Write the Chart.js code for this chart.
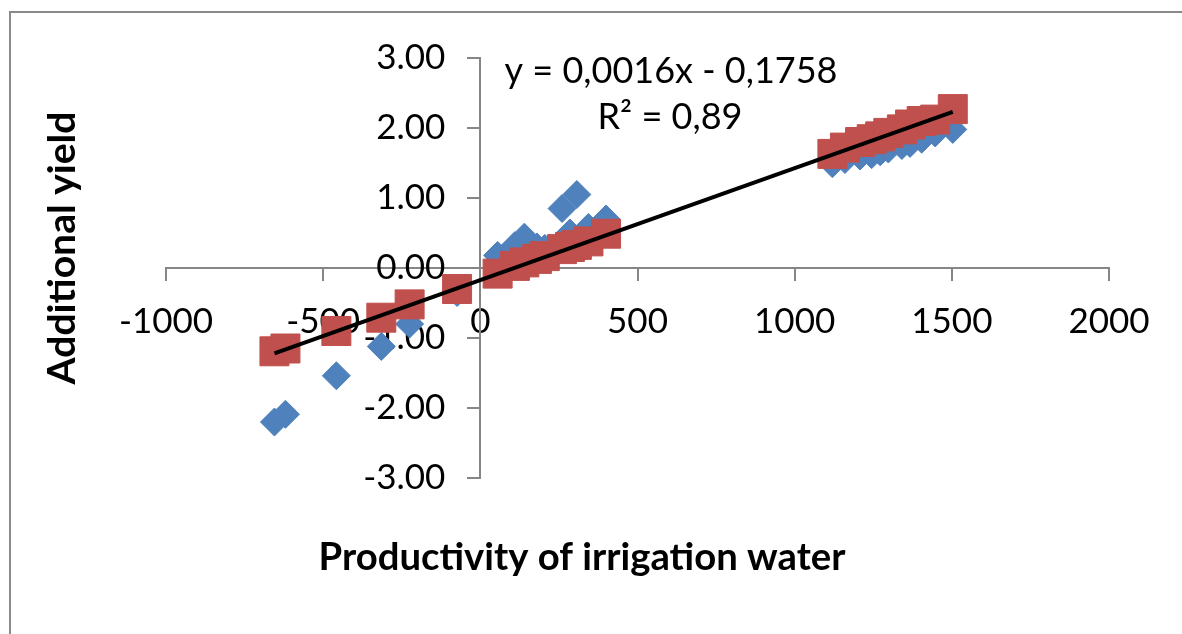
<!DOCTYPE html>
<html>
<head>
<meta charset="utf-8">
<script src="https://cdn.jsdelivr.net/npm/chart.js@4.4.1/dist/chart.umd.min.js"></script>
<style>
  html, body { margin: 0; padding: 0; background: #ffffff; }
  canvas { display: block; }
</style>
</head>
<body>
<canvas id="c" width="1182" height="634"></canvas>
<script>
// ---- data ----
const xValues = [-655, -620, -458, -315, -225, -74,
  55, 110, 140, 180, 205, 260, 285, 307, 344, 400,
  1120, 1160, 1208, 1245, 1272, 1298, 1341, 1367, 1404, 1447, 1503];
const actualYield = [-2.20, -2.09, -1.54, -1.12, -0.80, -0.35,
  0.18, 0.32, 0.44, 0.30, 0.28, 0.85, 0.50, 1.05, 0.58, 0.70,
  1.49, 1.55, 1.60, 1.62, 1.66, 1.70, 1.75, 1.78, 1.84, 1.93, 1.98];
const estimatedYield = [-1.19, -1.15, -0.90, -0.71, -0.52, -0.30,
  -0.08, 0.03, 0.08, 0.13, 0.17, 0.27, 0.30, 0.33, 0.38, 0.49,
  1.63, 1.72, 1.80, 1.84, 1.88, 1.93, 1.98, 2.05, 2.10, 2.12, 2.27];
const trendX = [-655, 1503];
const trendY = [-1.22, 2.23];
const xTickLabels = ['-1000', '-500', '0', '500', '1000', '1500', '2000'];
const yTickLabels = ['-3.00', '-2.00', '-1.00', '0.00', '1.00', '2.00', '3.00'];
const xTitle = 'Productivity of irrigation water';
const yTitle = 'Additional yield';
const eqLine1 = 'y = 0,0016x - 0,1758';
const eqLine2 = 'R\u00B2 = 0,89';

const toPoints = (xs, ys) => xs.map((x, i) => ({ x: x, y: ys[i] }));

const AXIS_GREY = '#868686';
const FONT = 'Lato';
const Y_LABEL_GAP = 35;

function fitText(ctx, text, weight, target, cx, cy, rot) {
  ctx.save();
  ctx.font = weight + ' 100px ' + FONT;
  const w = ctx.measureText(text).width;
  const size = 100 * target / w;
  ctx.font = weight + ' ' + size.toFixed(2) + 'px ' + FONT;
  ctx.fillStyle = '#000000';
  ctx.textAlign = 'center';
  ctx.textBaseline = 'middle';
  ctx.translate(cx, cy);
  if (rot) ctx.rotate(rot);
  ctx.fillText(text, 0, 0);
  ctx.restore();
}

const shifted = new WeakSet();

const decor = {
  id: 'decor',
  beforeDraw(chart) {
    const ctx = chart.ctx;
    ctx.save();
    ctx.fillStyle = '#ffffff';
    ctx.fillRect(0, 0, chart.width, chart.height);
    ctx.restore();
    // move the y tick labels away from the centred axis
    const ys = chart.scales.y;
    const items = ys.getLabelItems(chart.chartArea);
    if (!shifted.has(items)) {
      items.forEach(it => { it.options.translation[0] -= Y_LABEL_GAP; });
      shifted.add(items);
    }
  },
  afterDraw(chart) {
    const ctx = chart.ctx;
    ctx.save();
    ctx.strokeStyle = '#8a8a8a';
    ctx.lineWidth = 2;
    ctx.strokeRect(10, 12, 1300, 800);
    ctx.restore();
    fitText(ctx, xTitle, 'bold', 527, 582, 558, 0);
    fitText(ctx, yTitle, 'bold', 273, 62, 248, -Math.PI / 2);
    fitText(ctx, eqLine1, 'normal', 333, 671, 71, 0);
    fitText(ctx, eqLine2, 'normal', 145, 670, 117, 0);
  }
};

const zeroPad = (s) => { s.paddingLeft = 0; s.paddingRight = 0; s.paddingTop = 0; s.paddingBottom = 0; };

new Chart(document.getElementById('c'), {
  type: 'scatter',
  data: {
    datasets: [
      {
        type: 'line',
        label: 'trend',
        data: toPoints(trendX, trendY),
        borderColor: '#000000',
        borderWidth: 4,
        pointRadius: 0,
        fill: false,
        order: 0
      },
      {
        label: 'estimated',
        data: toPoints(xValues, estimatedYield),
        pointStyle: 'rect',
        pointRadius: 20.5,
        backgroundColor: '#C0504D',
        borderColor: '#C0504D',
        borderWidth: 1,
        order: 1
      },
      {
        label: 'actual',
        data: toPoints(xValues, actualYield),
        pointStyle: 'rectRot',
        pointRadius: 14,
        backgroundColor: '#4F81BD',
        borderColor: '#4F81BD',
        borderWidth: 1,
        order: 2
      }
    ]
  },
  options: {
    responsive: false,
    devicePixelRatio: 1,
    animation: false,
    events: [],
    layout: { padding: { left: 166, right: 73, top: 58, bottom: 156 } },
    plugins: { legend: { display: false }, tooltip: { enabled: false }, title: { display: false } },
    scales: {
      x: {
        type: 'linear',
        position: { y: 0 },
        min: -1000, max: 2000,
        afterFit: zeroPad,
        ticks: {
          stepSize: 500,
          padding: 21,
          color: '#000000',
          font: { family: FONT, size: 35 },
          maxRotation: 0,
          autoSkip: false,
          callback: (v, i) => xTickLabels[i]
        },
        grid: { drawOnChartArea: false, drawTicks: true, tickLength: 12, color: AXIS_GREY, lineWidth: 2 },
        border: { display: true, color: AXIS_GREY, width: 2 }
      },
      y: {
        type: 'linear',
        position: { x: 0 },
        min: -3, max: 3,
        afterFit: zeroPad,
        ticks: {
          stepSize: 1,
          padding: 26,
          color: '#000000',
          font: { family: FONT, size: 35 },
          autoSkip: false,
          callback: (v, i) => yTickLabels[i]
        },
        grid: { drawOnChartArea: false, drawTicks: true, tickLength: 12, color: AXIS_GREY, lineWidth: 2 },
        border: { display: true, color: AXIS_GREY, width: 2 }
      }
    }
  },
  plugins: [decor]
});
</script>
</body>
</html>
